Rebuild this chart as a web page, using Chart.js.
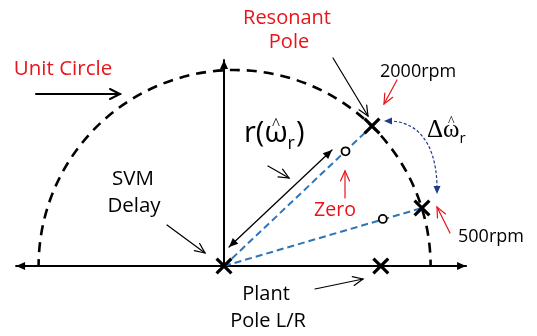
<!DOCTYPE html>
<html>
<head>
<meta charset="utf-8">
<script src="https://cdn.jsdelivr.net/npm/chart.js@4/dist/chart.umd.min.js"></script>
<style>
  html, body { margin: 0; padding: 0; background: #fff; overflow: hidden; }
  canvas { display: block; }
</style>
</head>
<body>
<canvas id="plane" width="537" height="336"></canvas>
<script>
// z-plane: poles and zeros of the current-loop model (unit circle radius = 1)
const poleNames = ['SVM Delay', 'Plant Pole L/R', 'Resonant Pole 2000rpm', 'Resonant Pole 500rpm'];
const poleRe = [0, 0.80, 0.755, 1.01];
const poleIm = [0, 0, 0.714, 0.296];

const zeroNames = ['Zero 2000rpm', 'Zero 500rpm'];
const zeroRe = [0.62, 0.81];
const zeroIm = [0.585, 0.24];

// unit circle (centre on the real axis, radius 1)
const circleRe = [0.054];
const circleRadius = [1];

// visible extent of the real / imaginary axes
const axisRe = [-1.066, 1.235];
const axisIm = [0, 1.051];

const RED = '#E8141B';
const BLUE = '#2E75B6';
const NAVY = '#1F3A8A';
const SANS = '"Open Sans", Lato, sans-serif';
const SERIF = '"Liberation Serif", "DejaVu Serif", serif';

const poles = poleRe.map((x, i) => ({ x, y: poleIm[i] }));
const zeros = zeroRe.map((x, i) => ({ x, y: zeroIm[i] }));

function arrowHead(ctx, x1, y1, x2, y2, len, half, filled) {
  const a = Math.atan2(y2 - y1, x2 - x1);
  const ax = x2 - len * Math.cos(a), ay = y2 - len * Math.sin(a);
  const px = -Math.sin(a) * half, py = Math.cos(a) * half;
  ctx.beginPath();
  ctx.setLineDash([]);
  if (filled) {
    ctx.moveTo(x2, y2);
    ctx.lineTo(ax + px, ay + py);
    ctx.lineTo(ax - px, ay - py);
    ctx.closePath();
    ctx.fill();
  } else {
    ctx.moveTo(ax + px, ay + py);
    ctx.lineTo(x2, y2);
    ctx.lineTo(ax - px, ay - py);
    ctx.stroke();
  }
}

function arrow(ctx, x1, y1, x2, y2, o) {
  ctx.save();
  ctx.strokeStyle = o.color;
  ctx.fillStyle = o.color;
  ctx.lineWidth = o.width;
  ctx.lineCap = 'round';
  ctx.beginPath();
  ctx.moveTo(x1, y1);
  ctx.lineTo(x2, y2);
  ctx.stroke();
  arrowHead(ctx, x1, y1, x2, y2, o.len || 9, o.half || 4, o.filled);
  if (o.both) arrowHead(ctx, x2, y2, x1, y1, o.len || 9, o.half || 4, o.filled);
  ctx.restore();
}

function text(ctx, s, x, y, font, color, align) {
  ctx.font = font;
  ctx.fillStyle = color;
  ctx.textAlign = align || 'center';
  ctx.textBaseline = 'alphabetic';
  ctx.fillText(s, x, y);
}

// ω with a hat and subscript r, drawn from a left edge
function omegaHatR(ctx, x, y, size, family, subFamily) {
  ctx.font = size + 'px ' + family;
  ctx.textAlign = 'left';
  ctx.textBaseline = 'alphabetic';
  ctx.fillText('ω', x, y);
  const w = ctx.measureText('ω').width;
  ctx.font = Math.round(size * 0.55) + 'px ' + SERIF;
  ctx.textAlign = 'center';
  ctx.fillText('^', x + w * 0.5, y - size * 0.45);
  ctx.textAlign = 'left';
  ctx.font = Math.round(size * 0.6) + 'px ' + (subFamily || family);
  ctx.fillText('r', x + w, y + size * 0.22);
  return x + w + ctx.measureText('r').width;
}

const planePlugin = {
  id: 'plane',
  beforeDatasetsDraw(chart) {
    const { ctx, scales: { x, y } } = chart;
    const x0 = x.getPixelForValue(0), y0 = y.getPixelForValue(0);
    // real axis, arrow both ways
    arrow(ctx, x.getPixelForValue(axisRe[0]) + 1, y0, x.getPixelForValue(axisRe[1]), y0,
      { color: '#000', width: 2, filled: true, len: 9, half: 4, both: true });
    // imaginary axis
    arrow(ctx, x0, y0, x0, y.getPixelForValue(axisIm[1]),
      { color: '#000', width: 2, filled: true, len: 9, half: 4 });

    // unit circle, upper half, dashed
    const cx = x.getPixelForValue(circleRe[0]);
    const r = x.getPixelForValue(circleRe[0] + circleRadius[0]) - cx;
    ctx.save();
    ctx.strokeStyle = '#000';
    ctx.lineWidth = 2.6;
    ctx.setLineDash([10, 7]);
    ctx.lineDashOffset = 3;
    ctx.beginPath();
    ctx.arc(cx, y0, r, Math.PI, 2 * Math.PI);
    ctx.stroke();
    ctx.restore();
  },
  afterDatasetsDraw(chart) {
    const { ctx } = chart;
    const thin = { color: '#000', width: 1.2, len: 10, half: 4.5 };
    const red = { color: RED, width: 1.2, len: 10, half: 4.5 };

    // Unit circle
    text(ctx, 'Unit Circle', 63, 75, '20.5px ' + SANS, RED);
    arrow(ctx, 36, 94, 120, 94, { color: '#000', width: 2, len: 10, half: 5 });

    // Resonant pole
    text(ctx, 'Resonant', 287, 24, '20px ' + SANS, RED);
    text(ctx, 'Pole', 289, 48, '20px ' + SANS, RED);
    arrow(ctx, 333, 58, 368, 116, thin);

    // 2000rpm
    text(ctx, '2000rpm', 380, 77, '18px ' + SANS, '#000', 'left');
    arrow(ctx, 397, 80, 384, 104, red);

    // 500rpm
    text(ctx, '500rpm', 458, 242, '18px ' + SANS, '#000', 'left');
    arrow(ctx, 450, 233, 437, 207, red);

    // Zero
    text(ctx, 'Zero', 335, 216, '19.5px ' + SANS, RED);
    arrow(ctx, 345, 198, 345, 171, red);

    // SVM delay
    text(ctx, 'SVM', 133, 185, '20.5px ' + SANS, '#000');
    text(ctx, 'Delay', 134, 212, '20.5px ' + SANS, '#000');
    arrow(ctx, 167, 225, 205, 253, thin);

    // Plant pole
    text(ctx, 'Plant', 266, 300, '20px ' + SANS, '#000');
    text(ctx, 'Pole L/R', 268, 327, '20px ' + SANS, '#000');
    arrow(ctx, 315, 289, 363, 279, thin);

    // r(ω̂r) with its radius arrow
    ctx.fillStyle = '#000';
    ctx.font = '29px ' + SANS;
    ctx.textAlign = 'left';
    ctx.textBaseline = 'alphabetic';
    ctx.fillText('r(', 244, 142);
    let xr = 244 + ctx.measureText('r(').width;
    xr = omegaHatR(ctx, xr, 142, 30, SANS);
    ctx.font = '29px ' + SANS;
    ctx.textAlign = 'left';
    ctx.fillText(')', xr + 1, 142);
    arrow(ctx, 268, 166, 289, 178, thin);
    arrow(ctx, 229, 247, 332, 150, { color: '#000', width: 1.3, len: 9, half: 4, filled: true, both: true });

    // Δω̂r with the dotted curved arrow
    ctx.fillStyle = '#000';
    ctx.font = '25px ' + SERIF;
    ctx.textAlign = 'left';
    ctx.fillText('Δ', 427, 137);
    const xd = 427 + ctx.measureText('Δ').width;
    omegaHatR(ctx, xd, 137, 25, SERIF, SANS);

    ctx.save();
    ctx.strokeStyle = NAVY;
    ctx.fillStyle = NAVY;
    ctx.lineWidth = 1.2;
    ctx.setLineDash([3, 2]);
    ctx.beginPath();
    ctx.moveTo(389, 121);
    ctx.bezierCurveTo(415, 121, 436, 140, 437, 186);
    ctx.stroke();
    arrowHead(ctx, 400, 121, 384, 121, 8, 3.5, true);
    arrowHead(ctx, 437, 180, 437, 194, 8, 3.5, true);
    ctx.restore();
  }
};

new Chart(document.getElementById('plane'), {
  type: 'scatter',
  data: {
    datasets: [
      {
        label: 'Poles',
        data: poles,
        pointStyle: 'crossRot',
        pointRadius: 10.5,
        pointBorderWidth: 3.2,
        borderColor: '#000',
        backgroundColor: '#000'
      },
      {
        label: 'Zeros',
        data: zeros,
        pointStyle: 'circle',
        pointRadius: 4,
        pointBorderWidth: 1.8,
        borderColor: '#000',
        backgroundColor: '#fff'
      },
      {
        label: 'Radius 2000rpm',
        data: [poles[0], poles[2]],
        showLine: true,
        borderColor: BLUE,
        borderWidth: 2,
        borderDash: [7, 4],
        pointRadius: 0
      },
      {
        label: 'Radius 500rpm',
        data: [poles[0], poles[3]],
        showLine: true,
        borderColor: BLUE,
        borderWidth: 2,
        borderDash: [7, 4],
        pointRadius: 0
      }
    ]
  },
  options: {
    responsive: false,
    devicePixelRatio: 1,
    animation: false,
    layout: { padding: 0, autoPadding: false },
    plugins: { legend: { display: false }, tooltip: { enabled: false } },
    scales: {
      x: { type: 'linear', min: -1.1429, max: 1.5969, display: false },
      y: { type: 'linear', min: -0.357, max: 1.357, display: false }
    }
  },
  plugins: [planePlugin]
});
</script>
</body>
</html>
